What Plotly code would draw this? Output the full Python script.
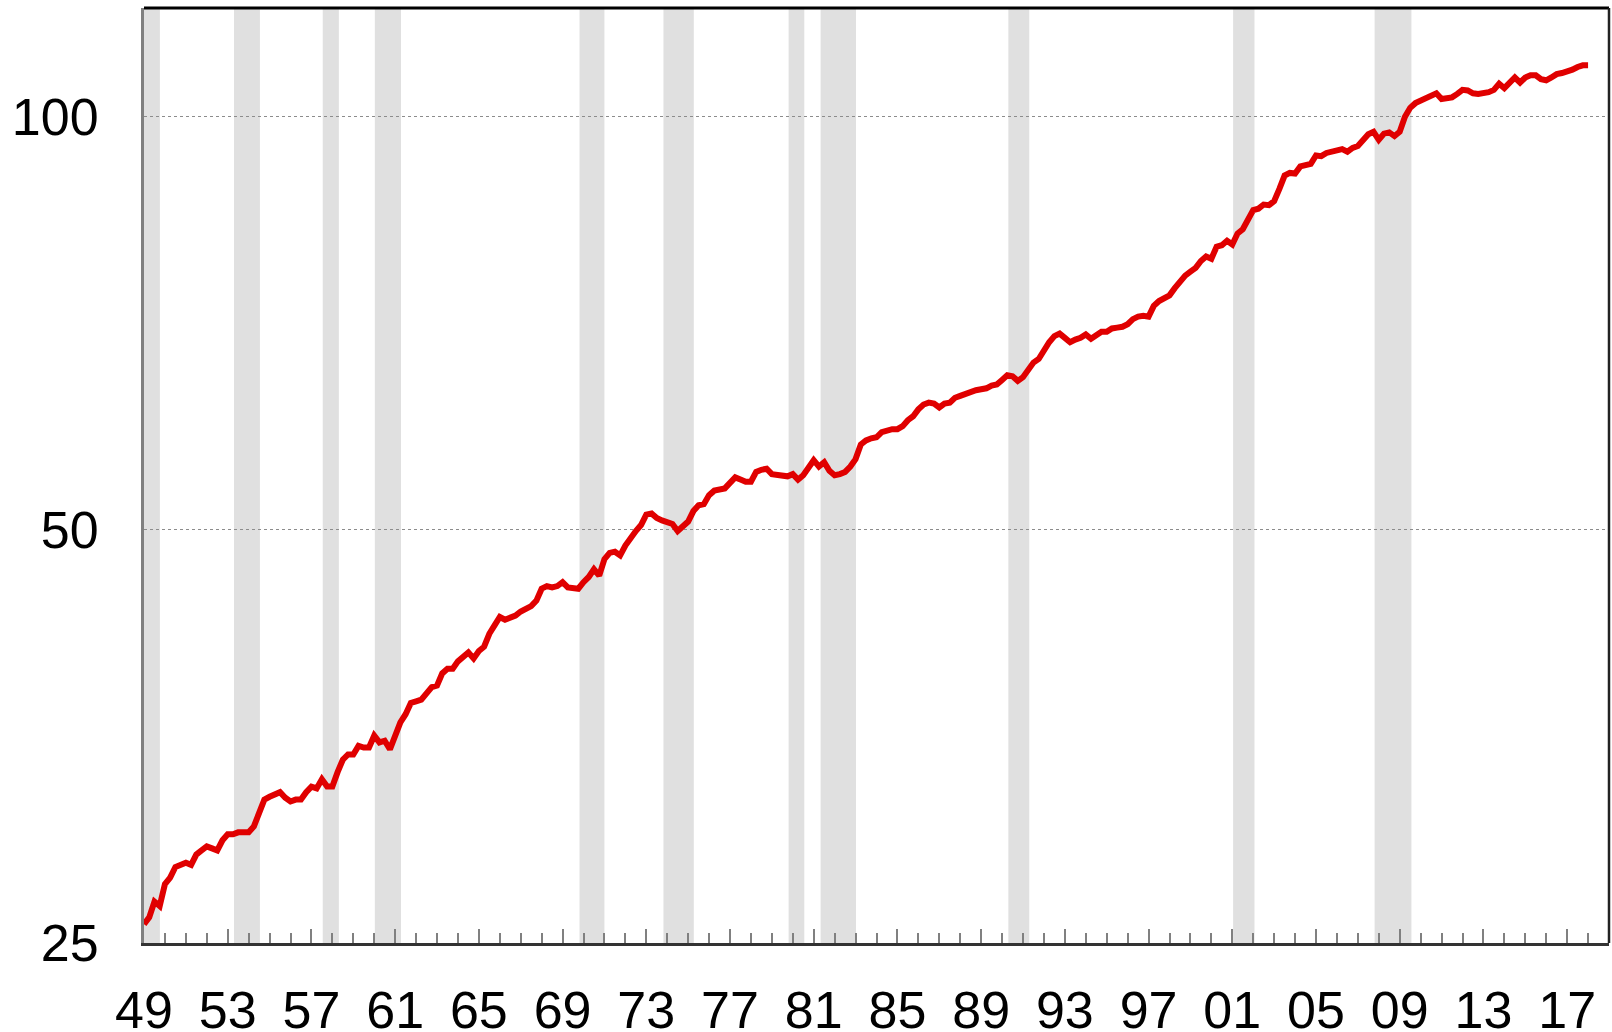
import plotly.graph_objects as go

# Quarterly index values (1949Q1 .. 2018Q1)
start_year = 1949
productivity = [
    25.8, 26.1, 26.8, 26.6,   # 1949
    27.6, 27.9, 28.4, 28.5,   # 1950
    28.6, 28.5, 29.0, 29.2,   # 1951
    29.4, 29.3, 29.2, 29.7,   # 1952
    30.0, 30.0, 30.1, 30.1,   # 1953
    30.1, 30.4, 31.0, 31.8,   # 1954
    31.95, 32.1, 32.2, 31.9,  # 1955
    31.7, 31.8, 31.8, 32.2,   # 1956
    32.5, 32.4, 32.9, 32.5,   # 1957
    32.5, 33.3, 34.0, 34.3,   # 1958
    34.3, 34.8, 34.7, 34.7,   # 1959
    35.4, 35.0, 35.1, 34.6,   # 1960
    35.5, 36.2, 36.7, 37.4,   # 1961
    37.5, 37.6, 38.0, 38.4,   # 1962
    38.5, 39.3, 39.6, 39.6,   # 1963
    40.1, 40.4, 40.7, 40.3,   # 1964
    40.8, 41.1, 42.0, 42.6,   # 1965
    43.2, 43.0, 43.1, 43.3,   # 1966
    43.6, 43.8, 44.0, 44.4,   # 1967
    45.3, 45.5, 45.4, 45.5,   # 1968
    45.8, 45.4, 45.4, 45.3,   # 1969
    45.8, 46.2, 46.8, 46.3,   # 1970
    47.6, 48.1, 48.2, 47.9,   # 1971
    48.7, 49.4, 49.9, 50.4,   # 1972
    51.3, 51.4, 51.0, 50.8,   # 1973
    50.7, 50.5, 49.9, 50.3,   # 1974
    50.7, 51.6, 52.1, 52.2,   # 1975
    53.0, 53.4, 53.5, 53.6,   # 1976
    54.1, 54.6, 54.4, 54.2,   # 1977
    54.2, 55.1, 55.3, 55.4,   # 1978
    54.9, 54.8, 54.7, 54.7,   # 1979
    54.9, 54.4, 54.8, 55.4,   # 1980
    56.2, 55.6, 56.0, 55.2,   # 1981
    54.8, 54.9, 55.1, 55.6,   # 1982
    56.3, 57.7, 58.1, 58.3,   # 1983
    58.4, 58.9, 59.1, 59.2,   # 1984
    59.2, 59.5, 60.1, 60.5,   # 1985
    61.2, 61.7, 61.9, 61.8,   # 1986
    61.4, 61.8, 61.9, 62.4,   # 1987
    62.6, 62.8, 63.1, 63.2,   # 1988
    63.3, 63.4, 63.7, 63.8,   # 1989
    64.3, 64.8, 64.7, 64.2,   # 1990
    64.6, 65.5, 66.2, 66.6,   # 1991
    67.7, 68.5, 69.2, 69.5,   # 1992
    69.0, 68.5, 68.8, 69.0,   # 1993
    69.4, 68.9, 69.3, 69.7,   # 1994
    69.7, 70.1, 70.2, 70.3,   # 1995
    70.6, 71.2, 71.5, 71.6,   # 1996
    71.5, 72.8, 73.4, 73.8,   # 1997
    74.1, 75.0, 75.8, 76.6,   # 1998
    77.1, 77.6, 78.5, 79.1,   # 1999
    78.8, 80.4, 80.6, 81.2,   # 2000
    80.7, 82.2, 82.8, 84.0,   # 2001
    85.5, 85.7, 86.3, 86.2,   # 2002
    86.8, 88.6, 90.6, 91.0,   # 2003
    90.9, 92.0, 92.2, 92.4,   # 2004
    93.7, 93.6, 94.1, 94.3,   # 2005
    94.7, 94.7, 94.3, 94.9,   # 2006
    95.2, 96.0, 97.1, 97.5,   # 2007
    96.2, 97.2, 97.4, 96.8,   # 2008
    97.5, 100.0, 101.5, 102.3,  # 2009
    102.7, 103.3, 103.7, 104.0,  # 2010
    103.0, 103.1, 103.3, 103.9,  # 2011
    104.6, 104.5, 104.0, 103.9,  # 2012
    104.0, 104.2, 104.6, 105.7,  # 2013
    104.9, 105.9, 106.8, 105.9,  # 2014
    106.8, 107.2, 107.2, 106.5,  # 2015
    106.3, 106.8, 107.4, 107.6,  # 2016
    107.8, 108.2, 108.7, 109.0,  # 2017
    109.0,                       # 2018
]

# Recession periods (decimal years)
rec_start = [1948.75, 1953.30, 1957.54, 1960.03, 1969.81, 1973.82, 1979.80, 1981.33, 1990.30, 2001.04, 2007.80]
rec_end = [1949.76, 1954.54, 1958.31, 1961.28, 1971.00, 1975.27, 1980.55, 1983.02, 1991.30, 2002.06, 2009.56]

# Axis ticks
x_tickvals = list(range(1949, 2018, 4))
x_ticktext = [f"{y % 100:02d}" for y in x_tickvals]
y_tickvals = [25, 50, 100]
y_ticktext = ["25", "50", "100"]

x_vals = [start_year + i / 4 for i in range(len(productivity))]

fig = go.Figure()
fig.add_trace(go.Scatter(
    x=x_vals, y=productivity, mode="lines",
    line=dict(color="#e00000", width=6),
    showlegend=False,
    hoverinfo="skip",
))

shapes = []
for s, e in zip(rec_start, rec_end):
    shapes.append(dict(type="rect", xref="x", yref="paper", x0=max(s, 1949), x1=e,
                       y0=0, y1=1, fillcolor="#e0e0e0", line=dict(width=0), layer="below"))
# frame: top and right black
shapes.append(dict(type="line", xref="paper", yref="paper", x0=0, x1=1, y0=1, y1=1,
                   line=dict(color="black", width=3)))
shapes.append(dict(type="line", xref="paper", yref="paper", x0=1, x1=1, y0=0, y1=1,
                   line=dict(color="#222222", width=2.5)))

font_family = "Liberation Sans, Arial, sans-serif"

fig.update_layout(
    width=1612, height=1032,
    margin=dict(l=144, r=3, t=8, b=89),
    paper_bgcolor="white", plot_bgcolor="white",
    shapes=shapes,
    hovermode=False,
    font=dict(family=font_family, size=52, color="black"),
    xaxis=dict(
        range=[1949, 2019],
        automargin=False,
        tickvals=x_tickvals, ticktext=x_ticktext,
        ticks="inside", ticklen=14, tickwidth=1.5, tickcolor="#808080",
        minor=dict(dtick=1, tick0=1949, ticks="inside", ticklen=10, tickwidth=1.5, tickcolor="#808080"),
        showgrid=False, zeroline=False,
        showline=True, linecolor="#333333", linewidth=2.5,
        ticklabelstandoff=20,
        tickfont=dict(family=font_family, size=52, color="black"),
    ),
    yaxis=dict(
        type="log",
        automargin=False,
        range=[1.39794, 2.0792],
        tickvals=y_tickvals, ticktext=y_ticktext,
        ticks="",
        showgrid=True, gridcolor="#8c8c8c", gridwidth=1, griddash="dot",
        zeroline=False,
        showline=True, linecolor="#808080", linewidth=3,
        ticklabelstandoff=32,
        tickfont=dict(family=font_family, size=52, color="black"),
    ),
)

# remove the default page margin so the figure fills the window exactly
fig.write_html(
    "out.html",
    config={"displayModeBar": False},
    post_script="document.body.style.margin='0';document.body.style.overflow='hidden';",
)
